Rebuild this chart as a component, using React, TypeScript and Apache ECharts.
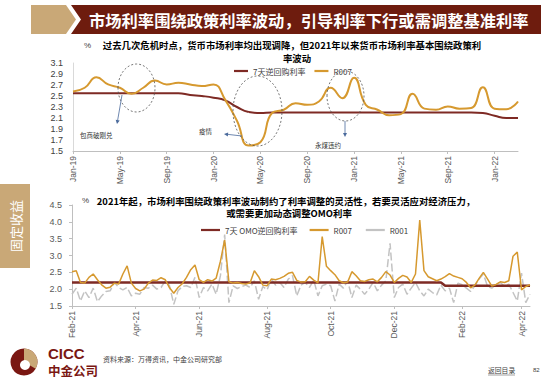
import React, { useEffect, useRef } from "react";
import * as echarts from "echarts";

// ---------- Chart 1 (monthly) ----------
const months1 = [
  "Jan-19","Feb-19","Mar-19","Apr-19","May-19","Jun-19","Jul-19","Aug-19","Sep-19","Oct-19","Nov-19","Dec-19",
  "Jan-20","Feb-20","Mar-20","Apr-20","May-20","Jun-20","Jul-20","Aug-20","Sep-20","Oct-20","Nov-20","Dec-20",
  "Jan-21","Feb-21","Mar-21","Apr-21","May-21","Jun-21","Jul-21","Aug-21","Sep-21","Oct-21","Nov-21","Dec-21",
  "Jan-22","Feb-22","Mar-22",
];
const reverseRepo1 = [
  2.55, 2.55, 2.55, 2.55, 2.55, 2.55, 2.55, 2.55, 2.55, 2.55, 2.52, 2.50,
  2.47, 2.42, 2.30, 2.21, 2.19, 2.20, 2.20, 2.20, 2.20, 2.20, 2.20, 2.20,
  2.20, 2.20, 2.20, 2.20, 2.20, 2.20, 2.20, 2.20, 2.20, 2.20, 2.20, 2.19,
  2.14, 2.10, 2.10,
];
const r007Monthly = [
  2.58, 2.65, 2.84, 2.71, 2.65, 2.54, 2.65, 2.78, 2.71, 2.74, 2.71, 2.68,
  2.71, 2.43, 2.05, 1.60, 1.66, 2.19, 2.25, 2.37, 2.34, 2.40, 2.65, 2.46,
  2.83, 2.34, 2.25, 2.15, 2.17, 2.54, 2.27, 2.25, 2.31, 2.27, 2.28, 2.66,
  2.27, 2.26, 2.40,
];

// ---------- Chart 2 (sampled every 4 days from 2021-02-01) ----------
const START_2 = Date.UTC(2021, 1, 1);
const STEP_DAYS_2 = 4;
const r007Daily = [
  2.52, 2.55, 2.20, 2.18, 2.35, 2.45, 2.28, 2.13, 2.03, 2.06,
  2.18, 2.15, 2.45, 2.69, 2.18, 2.02, 1.95, 2.00, 2.18, 2.27,
  2.26, 2.34, 2.28, 2.04, 1.88, 2.05, 2.16, 2.35, 2.58, 2.72,
  2.28, 2.20, 2.28, 2.24, 2.33, 2.83, 3.46, 2.22, 2.18, 2.20,
  2.17, 2.15, 2.19, 2.55, 2.37, 2.12, 2.10, 2.30, 2.28, 2.32,
  2.38, 2.47, 2.50, 2.26, 2.21, 2.22, 2.38, 2.27, 2.19, 3.56,
  2.68, 2.55, 2.43, 2.25, 2.19, 2.21, 2.52, 2.40, 2.25, 2.23,
  2.28, 2.30, 2.22, 2.35, 2.52, 2.42, 2.20, 2.32, 2.41, 2.36,
  2.20, 2.45, 4.05, 2.55, 2.37, 2.31, 2.25, 2.30, 2.37, 2.46,
  2.39, 2.35, 2.31, 2.20, 2.04, 2.12, 2.32, 2.50, 2.30, 2.09,
  2.14, 2.22, 2.20, 2.25, 2.98, 3.10, 1.98, 2.08, 2.13,
];
const r001Daily = [
  1.85, 2.03, 1.65, 1.95, 1.75, 2.03, 1.63, 1.80, 1.93, 1.95,
  2.20, 2.05, 1.98, 2.05, 1.80, 1.88, 1.85, 2.05, 2.03, 2.12,
  2.00, 2.05, 2.25, 2.10, 1.55, 1.95, 2.08, 2.10, 2.05, 2.35,
  1.75, 2.05, 1.95, 2.15, 1.85, 2.40, 3.62, 1.60, 2.10, 2.02,
  2.08, 2.12, 2.05, 2.25, 1.70, 2.08, 1.98, 2.30, 2.12, 2.20,
  2.05, 2.30, 2.40, 1.80, 2.12, 2.20, 2.05, 2.27, 1.80, 2.10,
  2.15, 2.10, 1.65, 2.15, 2.03, 2.25, 1.75, 2.12, 2.00, 1.85,
  2.00, 2.20, 1.95, 2.12, 2.25, 3.36, 1.75, 2.05, 2.15, 1.85,
  2.03, 2.20, 1.95, 1.80, 2.00, 1.90, 1.83, 2.12, 1.95, 2.03,
  1.60, 2.18, 2.13, 2.03, 1.93, 2.10, 2.30, 2.45, 2.08, 2.03,
  2.15, 2.20, 2.08, 2.15, 1.90, 1.65, 2.48, 1.60, 1.85,
];
const omoDaily = [
  2.20, 2.20, 2.20, 2.20, 2.20, 2.20, 2.20, 2.20, 2.20, 2.20,
  2.20, 2.20, 2.20, 2.20, 2.20, 2.20, 2.20, 2.20, 2.20, 2.20,
  2.20, 2.20, 2.20, 2.20, 2.20, 2.20, 2.20, 2.20, 2.20, 2.20,
  2.20, 2.20, 2.20, 2.20, 2.20, 2.20, 2.20, 2.20, 2.20, 2.20,
  2.20, 2.20, 2.20, 2.20, 2.20, 2.20, 2.20, 2.20, 2.20, 2.20,
  2.20, 2.20, 2.20, 2.20, 2.20, 2.20, 2.20, 2.20, 2.20, 2.20,
  2.20, 2.20, 2.20, 2.20, 2.20, 2.20, 2.20, 2.20, 2.20, 2.20,
  2.20, 2.20, 2.20, 2.20, 2.20, 2.20, 2.20, 2.20, 2.20, 2.20,
  2.20, 2.20, 2.20, 2.20, 2.20, 2.20, 2.20, 2.20, 2.10, 2.10,
  2.10, 2.10, 2.10, 2.10, 2.10, 2.10, 2.10, 2.10, 2.10, 2.10,
  2.10, 2.10, 2.10, 2.10, 2.10, 2.10, 2.10, 2.10, 2.10,
];
const MONTH_NAMES = ["Jan","Feb","Mar","Apr","May","Jun","Jul","Aug","Sep","Oct","Nov","Dec"];

// category dates for chart 2 (one per sample)
const dates2: string[] = r007Daily.map((_, i) => {
  const d = new Date(START_2 + i * STEP_DAYS_2 * 86400000);
  const mm = String(d.getUTCMonth() + 1).padStart(2, "0");
  const dd = String(d.getUTCDate()).padStart(2, "0");
  return `${d.getUTCFullYear()}-${mm}-${dd}`;
});

const monthOf = (s: string) => parseInt(s.split("-")[1], 10);
const isTick2 = (i: number) => {
  if (i === 0) return true;
  const m = monthOf(dates2[i]);
  return m !== monthOf(dates2[i - 1]) && m % 2 === 0;
};
const fmtDate2 = (s: string) => {
  const [y, m] = s.split("-");
  return `${MONTH_NAMES[parseInt(m, 10) - 1]}-${y.slice(2)}`;
};

const RED = "#7E2A24";
const ORANGE = "#D6992F";
const GRAY = "#C3C3C3";
const DARKRED = "#6E1C0E";
const TAN = "#C9A877";
const FONT = '"Liberation Sans", "Noto Sans CJK SC", sans-serif';
const CJK = '"Noto Sans CJK SC", "Liberation Sans", sans-serif';
const ARROW = "#4A6A9C";

function txt(x: number, y: number, text: string, o: any = {}) {
  return {
    type: "text",
    x,
    y,
    rotation: o.rotation || 0,
    z: 10,
    style: {
      text,
      fill: o.fill || "#000",
      fontSize: o.fontSize || 8,
      fontWeight: o.fontWeight || "normal",
      fontFamily: o.fontFamily || CJK,
      textAlign: o.align || "left",
      align: o.align || "left",
      textVerticalAlign: "middle",
      verticalAlign: "middle",
    },
  };
}

export default function App() {
  const ref = useRef<HTMLDivElement>(null);
  useEffect(() => {
    if (!ref.current) return;
    const chart = echarts.init(ref.current, undefined, { renderer: "svg" });
    const dashEllipse = (cx: number, cy: number, rx: number, ry: number) => ({
      type: "ellipse",
      z: 10,
      shape: { cx, cy, rx, ry },
      style: { fill: "none", stroke: "#555", lineWidth: 0.8, lineDash: [2, 2] },
    });
    const line = (x1: number, y1: number, x2: number, y2: number, stroke: string, w = 0.8) => ({
      type: "line",
      z: 10,
      shape: { x1, y1, x2, y2 },
      style: { stroke, lineWidth: w },
    });
    const head = (pts: number[][]) => ({
      type: "polygon",
      z: 10,
      shape: { points: pts },
      style: { fill: ARROW },
    });

    const graphic: any[] = [
      // header
      { type: "polygon", shape: { points: [[31, 5], [66, 5], [76, 19.5], [66, 34], [31, 34]] }, style: { fill: TAN } },
      { type: "polygon", shape: { points: [[71, 5], [541, 5], [541, 34], [71, 34], [81, 19.5]] }, style: { fill: DARKRED } },
      txt(89, 20, "市场利率围绕政策利率波动，引导利率下行或需调整基准利率", { fill: "#fff", fontSize: 16.3, fontWeight: "bold" }),
      // sidebar
      { type: "rect", shape: { x: 0, y: 184, width: 30, height: 84 }, style: { fill: TAN } },
      txt(15, 226, "固定收益", { fill: "#fff", fontSize: 13, align: "center", rotation: Math.PI / 2 }),
      // chart 1 title
      txt(84, 45, "%", { fontSize: 8, fill: "#404040", fontFamily: FONT }),
      txt(292, 44.6, "过去几次危机时点，货币市场利率均出现调降，但2021年以来货币市场利率基本围绕政策利", { fontSize: 9.4, fontWeight: "bold", align: "center" }),
      txt(297, 57.6, "率波动", { fontSize: 9.4, fontWeight: "bold", align: "center" }),
      // chart 2 title
      txt(82, 200.5, "%", { fontSize: 8, fill: "#404040", fontFamily: FONT }),
      txt(286, 200.5, "2021年起，市场利率围绕政策利率波动制约了利率调整的灵活性，若要灵活应对经济压力，", { fontSize: 9.4, fontWeight: "bold", align: "center" }),
      txt(289, 213.3, "或需要更加动态调整OMO利率", { fontSize: 9.4, fontWeight: "bold", align: "center" }),
      // annotations chart 1
      dashEllipse(136.5, 88, 18.5, 24),
      dashEllipse(257.5, 111, 24.5, 35),
      dashEllipse(345.5, 96, 18.5, 25),
      line(122, 95, 117.6, 120.5, ARROW),
      head([[117, 124], [119.7, 120.4], [115.7, 119.8]]),
      line(242, 136, 228, 134.4, ARROW),
      head([[224, 134], [228.2, 132.4], [227.8, 136.4]]),
      line(345, 121, 345, 133.5, ARROW),
      head([[345, 137], [343, 133], [347, 133]]),
      txt(80, 135, "包商破刚兑", { fontSize: 6.5, fill: "#333" }),
      txt(199, 131, "疫情", { fontSize: 6.5, fill: "#333" }),
      txt(315, 145, "永煤违约", { fontSize: 6.5, fill: "#333" }),
      // footer
      { type: "circle", shape: { cx: 24, cy: 362, r: 13.5 }, style: { fill: "#7A1712" } },
      { type: "sector", shape: { cx: 24, cy: 362, r: 13.5, r0: 0, startAngle: -Math.PI / 2, endAngle: Math.PI / 6, clockwise: true }, style: { fill: TAN } },
      { type: "circle", shape: { cx: 25, cy: 365, r: 5 }, style: { fill: "#fff" } },
      txt(48, 353, "CICC", { fontSize: 15, fontWeight: "bold", fill: "#7A1712", fontFamily: FONT }),
      txt(48, 370.5, "中金公司", { fontSize: 12.5, fontWeight: "bold", fill: "#7A1712" }),
      txt(103, 359, "资料来源：万得资讯，中金公司研究部", { fontSize: 7, fill: "#404040" }),
      txt(488, 370, "返回目录", { fontSize: 6.8, fill: "#404040" }),
      line(488, 375, 515, 375, "#404040", 0.5),
      txt(533, 370, "82", { fontSize: 6, fill: "#404040", fontFamily: FONT }),
    ];

    const option: any = {
      animation: false,
      textStyle: { fontFamily: FONT },
      graphic,
      legend: [
        {
          left: 229,
          top: 62,
          icon: "rect",
          itemWidth: 14,
          itemHeight: 2.2,
          itemGap: 9,
          textStyle: { fontSize: 8, color: "#404040", fontFamily: CJK },
          data: ["7天逆回购利率", "R007"],
        },
        {
          left: 196,
          top: 221,
          icon: "rect",
          itemWidth: 19,
          itemHeight: 2.2,
          itemGap: 12,
          textStyle: { fontSize: 8, color: "#404040", fontFamily: CJK },
          data: ["7天 OMO逆回购利率", "R007 ", "R001"],
        },
      ],
      grid: [
        { left: 73, right: 32, top: 63, bottom: 233 },
        { left: 72, right: 20, top: 205, bottom: 78 },
      ],
      xAxis: [
        {
          type: "category",
          gridIndex: 0,
          data: months1,
          boundaryGap: false,
          axisLine: { lineStyle: { color: "#BFBFBF" } },
          axisTick: { interval: 3, length: 3, lineStyle: { color: "#BFBFBF" } },
          axisLabel: { interval: 3, rotate: 90, fontSize: 8.5, color: "#595959", margin: 5 },
        },
        {
          type: "category",
          gridIndex: 1,
          data: dates2,
          boundaryGap: false,
          axisLine: { lineStyle: { color: "#BFBFBF" } },
          axisTick: { interval: (i: number) => isTick2(i), length: 3, lineStyle: { color: "#BFBFBF" } },
          axisLabel: {
            interval: (i: number) => isTick2(i),
            formatter: (v: string) => fmtDate2(v),
            rotate: 90,
            fontSize: 8.5,
            color: "#595959",
            margin: 5,
          },
        },
      ],
      yAxis: [
        {
          type: "value",
          gridIndex: 0,
          min: 1.5,
          max: 3.1,
          interval: 0.1,
          splitLine: { show: false },
          axisLine: { show: true, lineStyle: { color: "#D9D9D9" } },
          axisTick: { show: false },
          axisLabel: {
            fontSize: 9,
            color: "#404040",
            margin: 10,
            formatter: (v: number) => (Math.round(v * 10) % 2 === 1 ? v.toFixed(1) : ""),
          },
        },
        {
          type: "value",
          gridIndex: 1,
          min: 1.5,
          max: 4.5,
          interval: 0.5,
          splitLine: { show: false },
          axisLine: { show: true, lineStyle: { color: "#BFBFBF" } },
          axisTick: { show: true, length: 3, lineStyle: { color: "#BFBFBF" } },
          axisLabel: { fontSize: 9, color: "#595959", margin: 10, formatter: (v: number) => v.toFixed(1) },
        },
      ],
      series: [
        {
          name: "7天逆回购利率",
          type: "line",
          xAxisIndex: 0,
          yAxisIndex: 0,
          data: reverseRepo1,
          smooth: true,
          symbol: "none",
          color: RED,
          lineStyle: { color: RED, width: 2 },
        },
        {
          name: "R007",
          type: "line",
          xAxisIndex: 0,
          yAxisIndex: 0,
          data: r007Monthly,
          smooth: true,
          symbol: "none",
          color: ORANGE,
          lineStyle: { color: ORANGE, width: 2 },
        },
        {
          name: "R001",
          type: "line",
          xAxisIndex: 1,
          yAxisIndex: 1,
          data: r001Daily,
          symbol: "none",
          color: GRAY,
          lineStyle: { color: GRAY, width: 1.5, type: [8, 3] },
          z: 1,
        },
        {
          name: "7天 OMO逆回购利率",
          type: "line",
          xAxisIndex: 1,
          yAxisIndex: 1,
          data: omoDaily,
          symbol: "none",
          color: RED,
          lineStyle: { color: RED, width: 2.5 },
          z: 2,
        },
        {
          name: "R007 ",
          type: "line",
          xAxisIndex: 1,
          yAxisIndex: 1,
          data: r007Daily,
          symbol: "none",
          color: ORANGE,
          lineStyle: { color: ORANGE, width: 1.5 },
          z: 3,
        },
      ],
    };
    chart.setOption(option);
    return () => chart.dispose();
  }, []);
  return (
    <div
      ref={ref}
      style={{ position: "fixed", left: 0, top: 0, width: 550, height: 384, background: "#fff" }}
    />
  );
}
